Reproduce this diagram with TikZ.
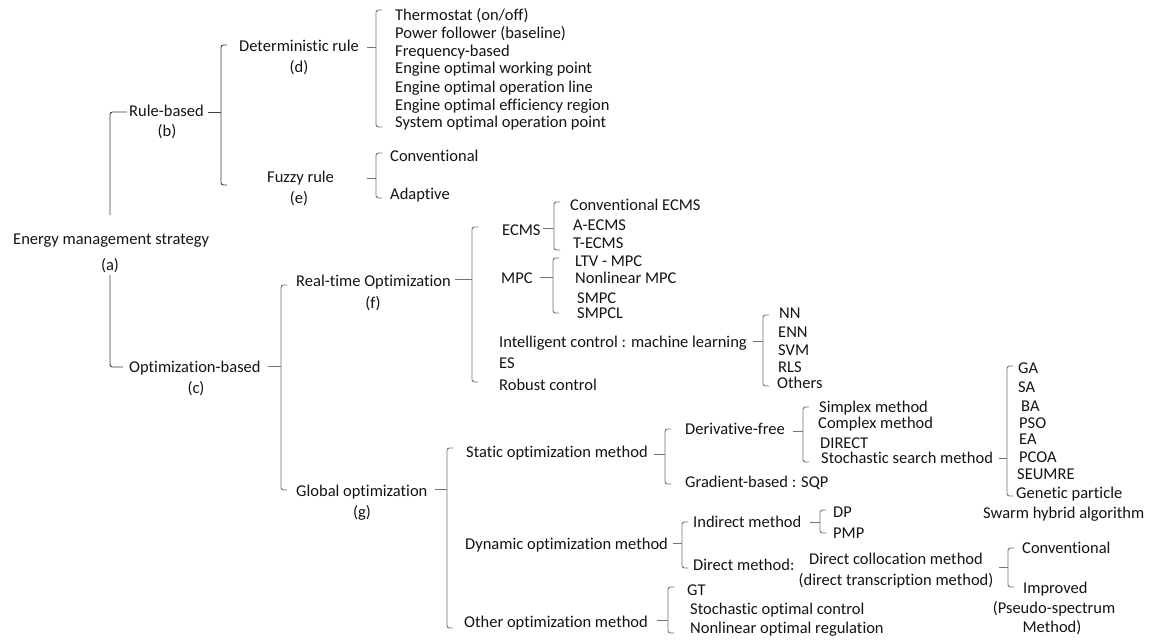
\documentclass[tikz,border=0pt]{standalone}
\usepackage{fontspec}
\setmainfont{Carlito}[Ligatures=NoCommon]
\newcommand\mybrace[6][]{%
  \draw[br,rounded corners=2.5pt,#1] (#2+6,#3) -- (#2,#3) -- (#2,#4) -- (#2+6,#4);
  \draw[br,#1] (#6,#5) -- (#2,#5);}
\begin{document}
\begin{tikzpicture}[x=1pt,y=-1pt,
  t/.style={anchor=west,inner sep=0pt,text height=10.6pt,text depth=0pt,font=\fontsize{16.5}{19}\selectfont,text=black!92},
  c/.style={t,anchor=center},
  br/.style={draw=black!55,line width=0.9pt},
  dk/.style={draw=black!75}]
\useasboundingbox[fill=white] (0,0) rectangle (1150,640);
% level 0
\node[t] (ems) at (13,239) {Energy management strategy};
\node[c] (la) at (110,265) {(a)};
% level 1
\node[t] (rb) at (129,111) {Rule-based};
\node[c] (lb) at (167,131) {(b)};
\node[t] (ob) at (129,367) {Optimization-based};
\node[c] (lc) at (196,388) {(c)};
% level 2
\node[t] (det) at (239,46) {Deterministic rule};
\node[c] (ld) at (299,67) {(d)};
\node[t] (fuz) at (267,177) {Fuzzy rule};
\node[c] (le) at (299,198) {(e)};
\node[t] (rto) at (296,281) {Real-time Optimization};
\node[c] (lf) at (373,303) {(f)};
\node[t] (glo) at (296,491) {Global optimization};
\node[c] (lg) at (362,512) {(g)};
% deterministic list
\node[t] (d1) at (395,15) {Thermostat (on/off)};
\node[t] (d2) at (395,33) {Power follower (baseline)};
\node[t] (d3) at (395,51) {Frequency-based};
\node[t] (d4) at (395,68) {Engine optimal working point};
\node[t] (d5) at (395,87) {Engine optimal operation line};
\node[t] (d6) at (395,105) {Engine optimal efficiency region};
\node[t] (d7) at (395,122) {System optimal operation point};
% fuzzy
\node[t] (f1) at (390,156) {Conventional};
\node[t] (f2) at (390,194) {Adaptive};
% real-time
\node[t] (ecms) at (502,230) {ECMS};
\node[t] (mpc) at (501,278) {MPC};
\node[t] (ic) at (499,342) {Intelligent control : machine learning};
\node[t] (es) at (499,363) {ES};
\node[t] (rc) at (499,385) {Robust control};
\node[t] (e1) at (570,205) {Conventional ECMS};
\node[t] (e2) at (573,225) {A-ECMS};
\node[t] (e3) at (573,243) {T-ECMS};
\node[t] (m1) at (575,261) {LTV - MPC};
\node[t] (m2) at (575,278) {Nonlinear MPC};
\node[t] (m3) at (577,298) {SMPC};
\node[t] (m4) at (577,313) {SMPCL};
\node[t] (n1) at (779,313) {NN};
\node[t] (n2) at (778,332) {ENN};
\node[t] (n3) at (778,350) {SVM};
\node[t] (n4) at (778,367) {RLS};
\node[t] (n5) at (777,383) {Others};
% global
\node[t] (som) at (466,452) {Static optimization method};
\node[t] (dom) at (465,544) {Dynamic optimization method};
\node[t] (oom) at (464,622) {Other optimization method};
\node[t] (df) at (685,429) {Derivative-free};
\node[t] (gb) at (685,482) {Gradient-based : SQP};
\node[t] (s1) at (819,407) {Simplex method};
\node[t] (s2) at (818,423) {Complex method};
\node[t] (s3) at (820,443) {DIRECT};
\node[t] (s4) at (821,458) {Stochastic search method};
\node[t] (g1) at (1018,368) {GA};
\node[t] (g2) at (1018,387) {SA};
\node[t] (g3) at (1021,406) {BA};
\node[t] (g4) at (1019,423) {PSO};
\node[t] (g5) at (1019,439) {EA};
\node[t] (g6) at (1019,457) {PCOA};
\node[t] (g7) at (1017,474) {SEUMRE};
\node[t] (g8) at (1016,493) {Genetic particle};
\node[t] (g9) at (983,513) {Swarm hybrid algorithm};
\node[t] (im) at (693,522) {Indirect method};
\node[t] (dm) at (693,565) {Direct method:};
\node[t] (dp) at (833,512) {DP};
\node[t] (pmp) at (833,533) {PMP};
\node[c] (dc1) at (896,559) {Direct collocation method};
\node[c] (dc2) at (896,580) {(direct transcription method)};
\node[t] (cv) at (1022,548) {Conventional};
\node[t] (ip) at (1023,588) {Improved};
\node[c] (ps1) at (1054,608) {(Pseudo-spectrum};
\node[c] (ps2) at (1052,627) {Method)};
\node[t] (gt) at (687,590) {GT};
\node[t] (soc) at (690,609) {Stochastic optimal control};
\node[t] (nor) at (690,628) {Nonlinear optimal regulation};
% braces
\draw[br,dk,rounded corners=2.5pt] (127,112) -- (110,112) -- (110,215);
\draw[br,dk,rounded corners=2.5pt] (110,275) -- (110,367) -- (123,367);
\mybrace[dk]{221}{45}{185}{112}{208}
\mybrace{376}{10}{127}{47}{367}
\mybrace{376}{153}{198}{178}{367}
\mybrace{281}{285}{490}{366}{268}
\mybrace{472}{227}{382}{279}{455}
\mybrace{554}{202}{250}{228}{543}
\mybrace{553}{258}{313}{277}{540}
\mybrace{763}{315}{386}{341}{753}
\mybrace{447}{448}{628}{489}{435}
\mybrace{665}{429}{484}{454}{654}
\mybrace{803}{407}{462}{431}{793}
\mybrace{1007}{366}{496}{458}{999}
\mybrace{682}{522}{568}{543}{673}
\mybrace{820}{510}{533}{522}{810}
\mybrace{1008}{548}{587}{567}{999}
\mybrace{668}{587}{633}{620}{657}
\end{tikzpicture}
\end{document}
